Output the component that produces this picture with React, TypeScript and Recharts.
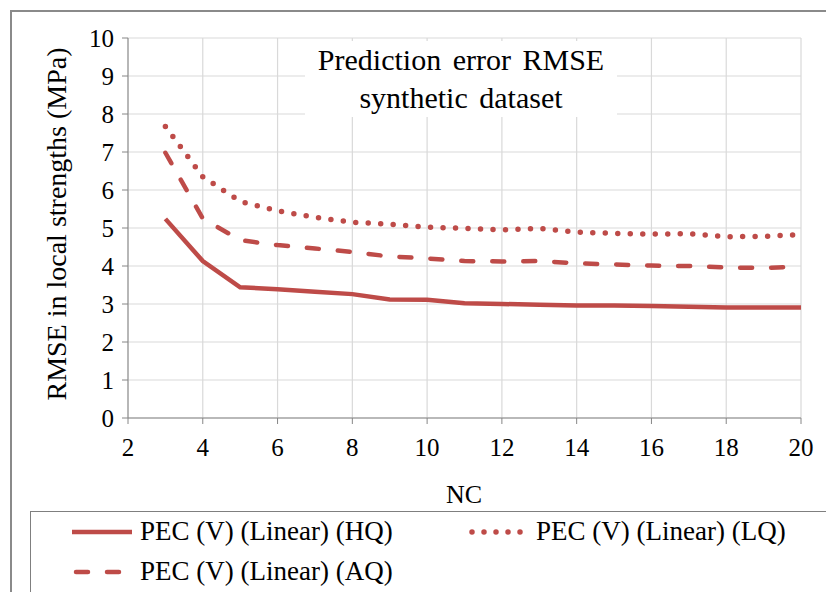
import { LineChart, Line, XAxis, YAxis, CartesianGrid } from 'recharts'

const SERIF = '"Liberation Serif", "DejaVu Serif", serif'
const RED = '#be4b48'
const AXIS = '#868686'
const GRID = '#d9d9d9'

// number of components on the x axis
const nc = [3, 4, 5, 6, 7, 8, 9, 10, 11, 12, 13, 14, 15, 16, 17, 18, 19, 20]
const hq = [5.24, 4.13, 3.44, 3.39, 3.32, 3.26, 3.12, 3.11, 3.02, 3.0, 2.98, 2.96, 2.96, 2.95, 2.93, 2.91, 2.91, 2.91]
const aq = [6.98, 5.25, 4.68, 4.55, 4.46, 4.37, 4.25, 4.2, 4.13, 4.12, 4.13, 4.07, 4.04, 4.01, 4.0, 3.96, 3.95, 3.98]
const lq = [7.67, 6.35, 5.7, 5.45, 5.28, 5.15, 5.1, 5.02, 4.99, 4.95, 4.99, 4.89, 4.86, 4.84, 4.85, 4.77, 4.78, 4.83]

const xTicks = [2, 4, 6, 8, 10, 12, 14, 16, 18, 20]
const yTicks = [0, 1, 2, 3, 4, 5, 6, 7, 8, 9, 10]

const seriesNames = {
  hq: 'PEC (V) (Linear) (HQ)',
  lq: 'PEC (V) (Linear) (LQ)',
  aq: 'PEC (V) (Linear) (AQ)',
}

const data = nc.map((x, i) => ({ x, hq: hq[i], aq: aq[i], lq: lq[i] }))

const tick = { fill: '#000', fontSize: 25, fontFamily: SERIF }

function Swatch({ kind }: { kind: 'solid' | 'dash' | 'dot' }) {
  const dash = kind === 'dash' ? '12 19' : kind === 'dot' ? '0 12' : undefined
  const w = kind === 'dot' ? 5.5 : 4.5
  return (
    <svg width={62} height={12} style={{ display: 'block' }}>
      <line
        x1={kind === 'solid' ? 0 : 4}
        x2={kind === 'solid' ? 60 : 58}
        y1={6}
        y2={6}
        stroke={RED}
        strokeWidth={w}
        strokeDasharray={dash}
        strokeLinecap={kind === 'solid' ? 'butt' : 'round'}
      />
    </svg>
  )
}

export default function App() {
  return (
    <div style={{ position: 'absolute', left: 0, top: 0, width: 826, height: 592, overflow: 'hidden', background: '#fff', fontFamily: SERIF }}>
      {/* outer chart frame, cut by the picture edge */}
      <div style={{ position: 'absolute', left: 10, top: 10, width: 840, height: 620, border: '2px solid #8a8a8a', boxSizing: 'border-box' }} />

      <div style={{ position: 'absolute', left: 0, top: 0 }}>
        <LineChart width={826} height={592} data={data} margin={{ top: 38, right: 25, bottom: 134, left: 75 }}>
          <CartesianGrid stroke={GRID} strokeWidth={1.2} />
          <XAxis
            dataKey="x"
            type="number"
            domain={[2, 20]}
            ticks={xTicks}
            height={40}
            stroke={AXIS}
            tickSize={6}
            tickMargin={14}
            tick={tick}
            interval={0}
          />
          <YAxis
            domain={[0, 10]}
            ticks={yTicks}
            width={53}
            stroke={AXIS}
            tickSize={6}
            tickMargin={8}
            tick={tick}
            interval={0}
          />
          <Line dataKey="hq" stroke={RED} strokeWidth={4.5} dot={false} isAnimationActive={false} />
          <Line dataKey="aq" stroke={RED} strokeWidth={4.5} strokeDasharray="12 19" strokeLinecap="round" dot={false} isAnimationActive={false} />
          <Line dataKey="lq" stroke={RED} strokeWidth={5.5} strokeDasharray="0 12.5" strokeLinecap="round" dot={false} isAnimationActive={false} />
        </LineChart>
      </div>

      {/* title box sits over the grid */}
      <div
        style={{
          position: 'absolute', left: 305, top: 41, width: 312, height: 76, background: '#fff',
          fontSize: 30, lineHeight: '38px', textAlign: 'center', color: '#000', wordSpacing: 4,
        }}
      >
        <div>Prediction error RMSE</div>
        <div>synthetic dataset</div>
      </div>

      {/* y axis title */}
      <div style={{ position: 'absolute', left: 57, top: 224, width: 0, height: 0 }}>
        <div
          style={{
            position: 'absolute', left: 0, top: 0, transform: 'translate(-50%, -50%) rotate(-90deg)',
            whiteSpace: 'nowrap', fontSize: 28, color: '#000',
          }}
        >
          RMSE in local strengths (MPa)
        </div>
      </div>

      {/* x axis title */}
      <div style={{ position: 'absolute', left: 414, top: 480, width: 100, textAlign: 'center', fontSize: 26 }}>
        NC
      </div>

      {/* legend */}
      <div
        style={{
          position: 'absolute', left: 30, top: 511, width: 820, height: 100, border: '1.5px solid #7f7f7f',
          boxSizing: 'border-box', fontSize: 27, color: '#000',
        }}
      >
        <div style={{ position: 'absolute', left: 41, top: 4, display: 'flex', alignItems: 'center', gap: 6 }}>
          <Swatch kind="solid" />
          <span>{seriesNames.hq}</span>
        </div>
        <div style={{ position: 'absolute', left: 437, top: 4, display: 'flex', alignItems: 'center', gap: 6 }}>
          <Swatch kind="dot" />
          <span>{seriesNames.lq}</span>
        </div>
        <div style={{ position: 'absolute', left: 41, top: 44, display: 'flex', alignItems: 'center', gap: 6 }}>
          <Swatch kind="dash" />
          <span>{seriesNames.aq}</span>
        </div>
      </div>
    </div>
  )
}
